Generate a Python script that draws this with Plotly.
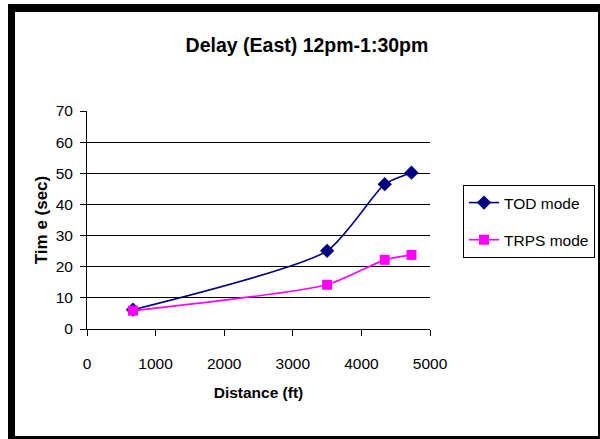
import plotly.graph_objects as go

# Measured delay along the eastbound corridor, 12pm-1:30pm
distance_ft = [670, 3500, 4340, 4730]
tod_delay_s = [6.2, 25.1, 46.5, 50.2]
trps_delay_s = [5.9, 14.2, 22.2, 23.8]

x_ticks = [0, 1000, 2000, 3000, 4000, 5000]
y_ticks = [0, 10, 20, 30, 40, 50, 60, 70]

FONT = "Liberation Sans, Arial, sans-serif"

W, H = 600, 439
L, R, T, B = 87, 170, 111, 110
PW, PH = W - L - R, H - T - B


def px_x(p):
    return (p - L) / PW


def px_y(p):
    return (H - B - p) / PH


fig = go.Figure()
fig.add_trace(go.Scatter(
    x=distance_ft, y=tod_delay_s, name="TOD mode", mode="lines+markers",
    line=dict(color="#000080", width=1.6, shape="spline", smoothing=0.6),
    marker=dict(symbol="diamond", size=11, color="#000080"),
    legendgroup="a",
))
fig.add_trace(go.Scatter(
    x=distance_ft, y=trps_delay_s, name="TRPS mode", mode="lines+markers",
    line=dict(color="#FF00FF", width=1.6, shape="spline", smoothing=0.6),
    marker=dict(symbol="square", size=10, color="#FF00FF"),
    legendgroup="b",
))

# chart frame: heavier on the left and top edges
frame = [
    (8, 4, 15, 439),
    (8, 4, 600, 12),
    (598, 4, 600, 439),
    (8, 436, 600, 439),
]
shapes = [
    dict(type="rect", xref="paper", yref="paper",
         x0=px_x(a), x1=px_x(c), y0=px_y(d), y1=px_y(b),
         fillcolor="black", line=dict(width=0), layer="above")
    for a, b, c, d in frame
]

fig.update_layout(
    width=W, height=H,
    margin=dict(l=L, r=R, t=T, b=B),
    paper_bgcolor="white", plot_bgcolor="white",
    font=dict(family=FONT, color="black", size=15.5),
    title=dict(text="<b>Delay (East) 12pm-1:30pm</b>", x=307 / W, xanchor="center",
               y=1 - 45 / H, yanchor="middle", font=dict(size=19.5)),
    showlegend=True,
    legend=dict(xref="container", yref="container",
                x=463 / W, y=1 - 185 / H, xanchor="left", yanchor="top",
                bordercolor="black", borderwidth=1, bgcolor="white",
                font=dict(size=15.5), tracegroupgap=14),
    shapes=shapes,
)
fig.update_xaxes(
    range=[0, 5000], tickvals=x_ticks, ticks="outside", ticklen=6, tickcolor="black",
    showline=True, linecolor="black", showgrid=False, zeroline=False,
    ticklabelstandoff=14,
    title=dict(text="<b>Distance (ft)</b>", font=dict(size=15.5), standoff=16),
)
fig.update_yaxes(
    range=[0, 70], tickvals=y_ticks, ticks="outside", ticklen=6, tickcolor="black",
    showline=True, linecolor="black", showgrid=True, gridcolor="black", gridwidth=1,
    zeroline=False, ticklabelstandoff=4,
    title=dict(text="<b>Tim e (sec)</b>", font=dict(size=17), standoff=3),
)

fig.write_html("out.html")
